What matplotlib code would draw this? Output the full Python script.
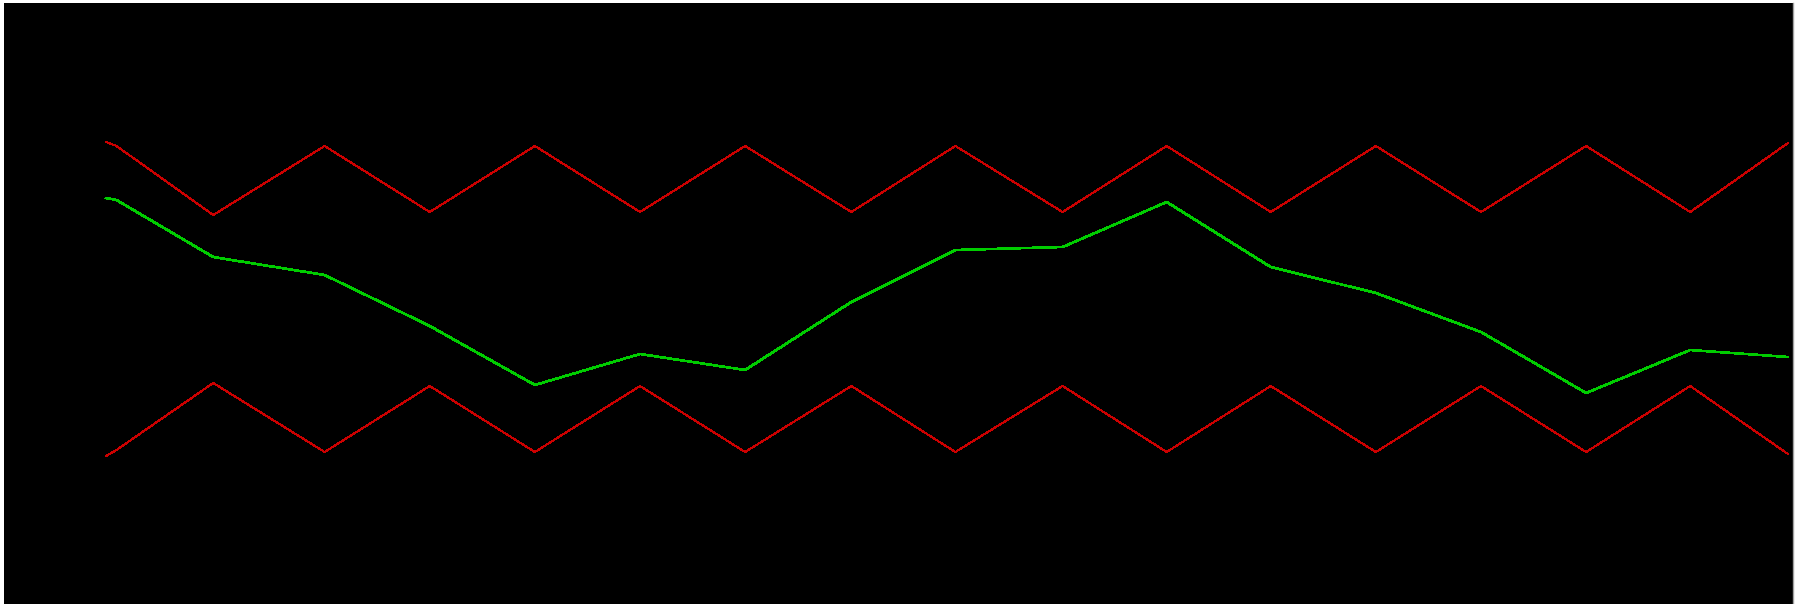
import numpy as np
import matplotlib
matplotlib.use("Agg")
import matplotlib.pyplot as plt

# positions des points (unites de l'axe x)
x = [0, 0.1, 1.02, 2.08, 3.08, 4.08, 5.08, 6.08, 7.09, 8.08, 9.1,
     10.09, 11.08, 12.08, 13.08, 14.08, 15.07, 16.0]

# courbe centrale (verte)
milieu = [406, 404, 347, 329, 278, 219, 250, 234, 302, 354, 357,
          402, 337, 311, 272, 211, 254, 247]
# bande haute et bande basse (rouges)
haut = [462, 458, 389, 458, 392, 458, 392, 458, 392, 458, 392,
        458, 392, 458, 392, 458, 392, 461]
bas = [148, 154, 221, 152, 218, 152, 218, 152, 218, 152, 218,
       152, 218, 152, 218, 152, 218, 150]

fig = plt.figure(figsize=(18.04, 6.04), dpi=100, facecolor='white')
ax = fig.add_axes([4/1804, 0, 1789/1804, 601/604])
ax.set_facecolor('black')

ax.plot(x, haut, color='#cc0000', linewidth=0.75, antialiased=False)
ax.plot(x, bas, color='#cc0000', linewidth=0.75, antialiased=False)
ax.plot(x, milieu, color='#00cc00', linewidth=1.2, antialiased=False)

ax.set_xlim(-0.970, 16.048)
ax.set_ylim(0, 601)
ax.set_xticks([])
ax.set_yticks([])
for s in ['top', 'bottom', 'left']:
    ax.spines[s].set_visible(False)
ax.spines['right'].set_color('#a0a0a0')
ax.spines['right'].set_linewidth(1.0)

fig.savefig('out.png', dpi=100, facecolor='white')
